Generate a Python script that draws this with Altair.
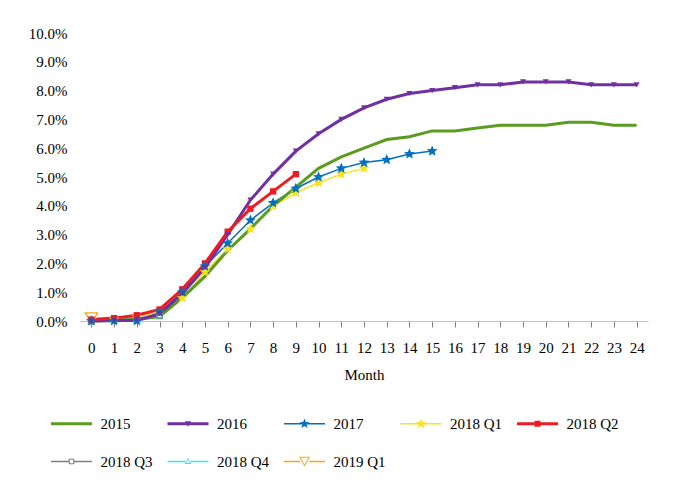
import math
import altair as alt
import pandas as pd

# ---------------- data ----------------
months = list(range(25))
series_names = ["2015", "2016", "2017", "2018 Q1", "2018 Q2", "2018 Q3", "2018 Q4", "2019 Q1"]
series_colors = ["#5B9B1F", "#7030A0", "#0070C0", "#F7E21C", "#ED1C24", "#7F7F7F", "#33E6F2", "#F5A623"]
thick_series = ["2015", "2016", "2018 Q2"]

v2015 = [0.0, 0.02, 0.05, 0.15, 0.8, 1.55, 2.45, 3.2, 4.0, 4.65, 5.3, 5.7, 6.0, 6.3, 6.4, 6.6, 6.6, 6.7, 6.8, 6.8, 6.8, 6.9, 6.9, 6.8, 6.8]
v2016 = [0.0, 0.02, 0.02, 0.25, 0.95, 1.85, 3.0, 4.2, 5.1, 5.9, 6.5, 7.0, 7.4, 7.7, 7.9, 8.0, 8.1, 8.2, 8.2, 8.3, 8.3, 8.3, 8.2, 8.2, 8.2]
v2017 = [0.0, 0.0, 0.0, 0.3, 1.0, 1.9, 2.7, 3.5, 4.1, 4.6, 5.0, 5.3, 5.5, 5.6, 5.8, 5.9]
v2018q1 = [0.02, 0.05, 0.15, 0.3, 0.8, 1.7, 2.5, 3.2, 4.0, 4.45, 4.8, 5.1, 5.3]
v2018q2 = [0.05, 0.1, 0.2, 0.4, 1.1, 2.0, 3.1, 3.9, 4.5, 5.1]
v2018q3 = [0.0, 0.05, 0.1, 0.2]
v2018q4 = [0.0, 0.05, 0.05, 0.17]
v2019q1 = [0.1]

all_values = [v2015, v2016, v2017, v2018q1, v2018q2, v2018q3, v2018q4, v2019q1]

rows = []
for name, vals in zip(series_names, all_values):
    for m, v in zip(months, vals):
        rows.append({"series": name, "month": m, "value": v / 100.0})
df = pd.DataFrame(rows)

FONT = "Liberation Serif"

# ---------------- marker paths ----------------
def star(cx, cy, R, r):
    pts = []
    for k in range(10):
        a = -math.pi / 2 + k * math.pi / 5
        rad = R if k % 2 == 0 else r
        pts.append((cx + rad * math.cos(a), cy + rad * math.sin(a)))
    return "M" + "L".join(f"{x:.3f},{y:.3f}" for x, y in pts) + "Z"

def rect(x0, x1, h):
    return f"M{x0:.3f},{-h:.3f}H{x1:.3f}V{h:.3f}H{x0:.3f}Z"

def poly(pts, reverse=False):
    if reverse:
        pts = list(reversed(pts))
    return "M" + "L".join(f"{x:.3f},{y:.3f}" for x, y in pts) + "Z"

def ring(pts, k):
    cx = sum(p[0] for p in pts) / len(pts)
    cy = sum(p[1] for p in pts) / len(pts)
    inner = [(cx + (x - cx) * k, cy + (y - cy) * k) for x, y in pts]
    return poly(pts) + poly(inner, reverse=True)

# legend symbol geometry (1 unit = 5 px)
X0, X1, C = -1.5, 6.7, 2.6
THICK, THIN = 0.3, 0.17

def split_line(hw, h):
    return rect(X0, C - hw, h) + rect(C + hw, X1, h)

sq_open = [(C - 0.55, -0.55), (C + 0.55, -0.55), (C + 0.55, 0.55), (C - 0.55, 0.55)]
tri_up_open = [(C, -0.7), (C + 0.65, 0.5), (C - 0.65, 0.5)]
tri_dn_big = [(C - 1.1, -0.95), (C + 1.1, -0.95), (C, 1.05)]

legend_paths = [
    rect(X0, X1, THICK),
    rect(X0, X1, THICK) + poly([(C - 0.65, -0.5), (C + 0.65, -0.5), (C, 0.6)]),
    rect(X0, X1, THIN) + star(C, 0, 1.05, 0.45),
    rect(X0, X1, THIN) + star(C, 0, 1.05, 0.45),
    rect(X0, X1, THICK) + poly([(C - 0.6, -0.6), (C + 0.6, -0.6), (C + 0.6, 0.6), (C - 0.6, 0.6)]),
    split_line(0.55, THIN) + ring(sq_open, 0.62),
    split_line(0.5, THIN) + ring(tri_up_open, 0.55),
    split_line(0.9, THIN) + ring(tri_dn_big, 0.7),
]

star_path = star(0, 0, 1, 0.45)

# series -> (shape, size, filled)
marker_specs = [
    ("2019 Q1", "triangle-down", 150, False),
    ("2018 Q4", "triangle-up", 40, False),
    ("2018 Q3", "square", 30, False),
    ("2018 Q1", star_path, 121, True),
    ("2018 Q2", "square", 40, True),
    ("2017", star_path, 130, True),
    ("2016", "triangle-down", 36, True),
]

# ---------------- chart ----------------
leg = alt.Legend(
    title=None, orient="none", direction="horizontal", legendX=-29, legendY=383, columns=5,
    gridAlign="all", columnPadding=14.5, rowPadding=22, symbolSize=100, symbolStrokeWidth=0,
    symbolOffset=0, labelOffset=34.5, labelFont=FONT, labelFontSize=15, labelColor="#000000",
    padding=0,
)
color_scale = alt.Scale(domain=series_names, range=series_colors)
color_enc = alt.Color("series:N", scale=color_scale, legend=leg)

x_enc = alt.X(
    "month:Q",
    scale=alt.Scale(domain=[-0.5, 24.5], nice=False, zero=False),
    axis=alt.Axis(
        values=months, format="d", title="Month", grid=False,
        domainColor="#BFBFBF", tickColor="#7F7F7F", tickSize=6,
        labelPadding=13, titlePadding=12, labelFlush=False, labelOverlap=False,
    ),
)
y_enc = alt.Y(
    "value:Q",
    scale=alt.Scale(domain=[0, 0.1], nice=False),
    axis=alt.Axis(
        values=[i / 100 for i in range(11)], format=".1%", title=None, grid=False,
        domain=False, ticks=False, labelPadding=13, labelOverlap=False,
    ),
)

base = alt.Chart(df)

thin_lines = base.transform_filter(
    alt.FieldOneOfPredicate(field="series", oneOf=[s for s in series_names if s not in thick_series])
).mark_line(strokeWidth=1.5).encode(x=x_enc, y=y_enc, color=color_enc)

thick_lines = base.transform_filter(
    alt.FieldOneOfPredicate(field="series", oneOf=thick_series)
).mark_line(strokeWidth=3).encode(x=x_enc, y=y_enc, color=color_enc)

layers = [thin_lines, thick_lines]
for name, shape, size, filled in marker_specs:
    if filled:
        mk = dict(shape=shape, size=size, filled=True, opacity=1, strokeWidth=0)
    else:
        mk = dict(shape=shape, size=size, filled=False, fill="white", opacity=1, strokeWidth=1.3)
    layers.append(
        base.transform_filter(alt.datum.series == name).mark_point(**mk).encode(
            x=x_enc, y=y_enc, color=color_enc,
        )
    )

legend_layer = base.transform_filter("false").mark_point(filled=True, opacity=1).encode(
    x=x_enc,
    y=y_enc,
    color=color_enc,
    shape=alt.Shape("series:N", scale=alt.Scale(domain=series_names, range=legend_paths), legend=leg),
)
layers.append(legend_layer)

chart = alt.layer(*layers).properties(
    width=568,
    height=288,
    padding={"left": 72, "top": 25, "right": 26, "bottom": 150},
    autosize=alt.AutoSizeParams(type="none"),
).configure_view(stroke=None).configure_axis(
    labelFont=FONT, labelFontSize=15, labelColor="#000000",
    titleFont=FONT, titleFontSize=15, titleFontWeight="normal", titleColor="#000000",
)

chart.save("out.html", embed_options={"renderer": "svg", "actions": False})
